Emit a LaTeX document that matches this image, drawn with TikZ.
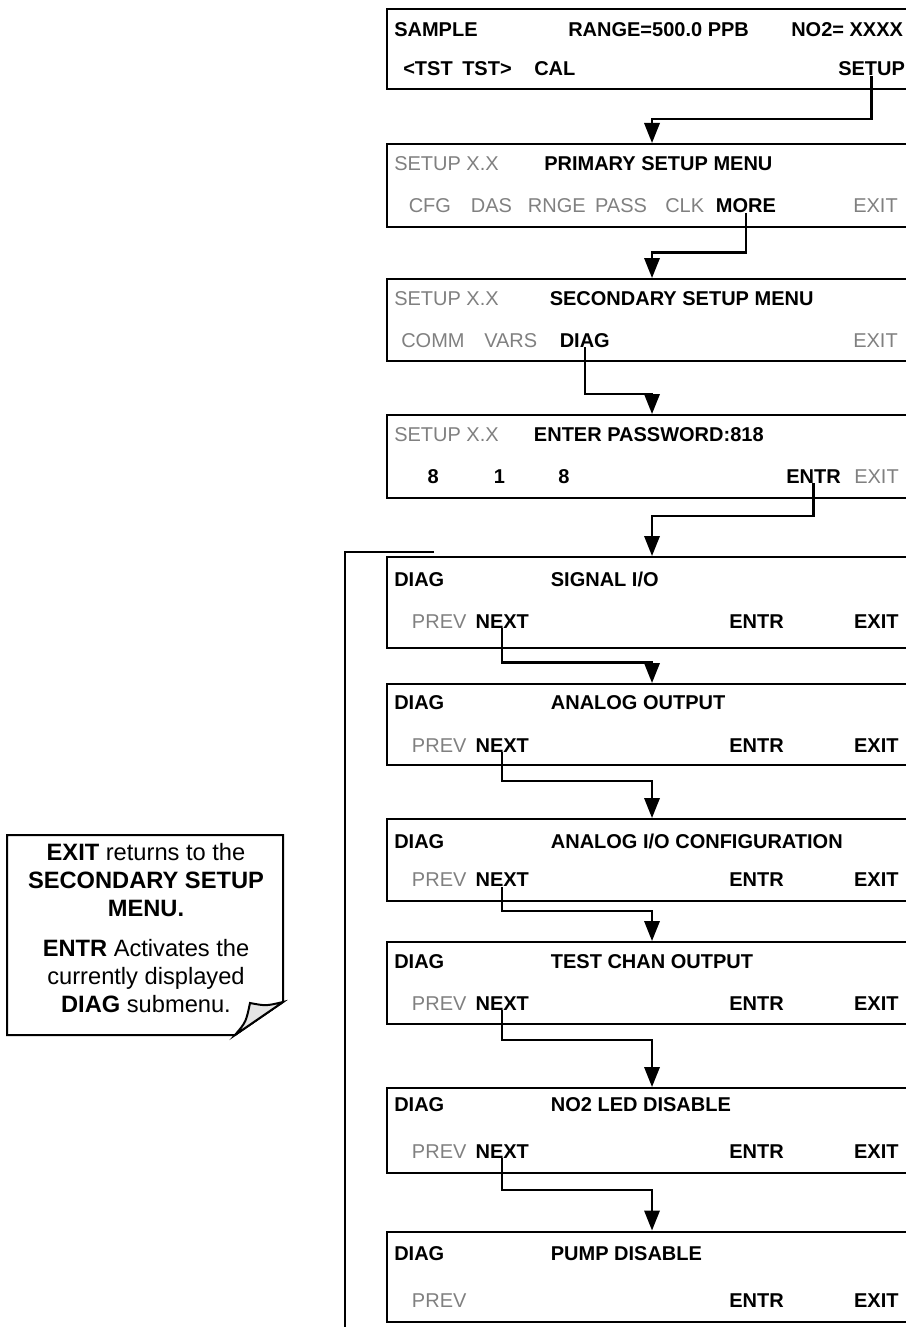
\documentclass[tikz,border=0pt]{standalone}
\usepackage{fontspec}
\setmainfont{Liberation Sans}
\usetikzlibrary{arrows.meta}

\begin{document}
\begin{tikzpicture}[
  x=0.75pt, y=-0.75pt,
  panel/.style={draw, line width=1.8pt, minimum width=397.5pt, inner sep=0pt,
                anchor=north},
  key/.style={font=\fontsize{15}{18}\selectfont\bfseries, inner sep=0pt,
              anchor=base west},
  dim/.style={key, font=\fontsize{15}{18}\selectfont, text=black!50},
  link/.style={-{Triangle[length=15pt, width=11.5pt]}, line width=1.8pt},
  backline/.style={line width=1.8pt},
  notebox/.style={line width=1.5pt},
  notetext/.style={font=\fontsize{17.75}{21}\selectfont, align=center,
                   anchor=north, inner sep=0pt}
]
\useasboundingbox (0,0) rectangle (906,1327);
\clip (0,0) rectangle (906,1327);

\node[panel, minimum height=60pt] (b1) at (652,8) {};
\node[key] (sample) at (394,37) {SAMPLE};
\node[key] (range) at (568,37) {RANGE=500.0 PPB};
\node[key] (no2) at (791,37) {NO2= XXXX};
\node[key] (tstl) at (403,76) {<TST};
\node[key] (tstr) at (462,76) {TST>};
\node[key] (cal) at (534,76) {CAL};
\node[key] (setup) at (838,76) {SETUP};

\node[panel, minimum height=62.25pt] (b2) at (652,143) {};
\node[dim] (su2) at (394,170.5) {SETUP X.X};
\node[key] (prim) at (544,170.5) {PRIMARY SETUP MENU};
\node[dim] (cfg) at (408.5,212.5) {CFG};
\node[dim] (das) at (470.6,212.5) {DAS};
\node[dim] (rnge) at (527.6,212.5) {RNGE};
\node[dim] (pass) at (594.8,212.5) {PASS};
\node[dim] (clk) at (665,212.5) {CLK};
\node[key] (more) at (715.6,212.5) {MORE};
\node[dim] (exit2) at (853,212.5) {EXIT};

\node[panel, minimum height=61.5pt] (b3) at (652,278) {};
\node[dim] (su3) at (394,305) {SETUP X.X};
\node[key] (sec) at (549.5,305) {SECONDARY SETUP MENU};
\node[dim] (comm) at (401,347) {COMM};
\node[dim] (vars) at (484,347) {VARS};
\node[key] (diag3) at (559.5,347) {DIAG};
\node[dim] (exit3) at (853,347) {EXIT};

\node[panel, minimum height=62.25pt] (b4) at (652,414) {};
\node[dim] (su4) at (394,441) {SETUP X.X};
\node[key] (pw) at (533.7,441) {ENTER PASSWORD:818};
\node[key] (d1) at (427.4,483) {8};
\node[key] (d2) at (493.6,483) {1};
\node[key] (d3) at (558,483) {8};
\node[key] (entr4) at (786,483) {ENTR};
\node[dim] (exit4) at (854,483) {EXIT};

\foreach \i/\yt/\hh/\ya/\yb/\ttl in {
    5/556/68.25/586.5/628/{SIGNAL I/O},
    6/683/60.75/709.5/752/{ANALOG OUTPUT},
    7/818/61.5/848/886.5/{ANALOG I/O CONFIGURATION},
    8/941/61.5/968.5/1010/{TEST CHAN OUTPUT},
    9/1087/63.75/1111/1158/{NO2 LED DISABLE},
    10/1230.5/67.875/1260/1307/{PUMP DISABLE}} {
  \node[panel, minimum height=\hh pt] (b\i) at (652,\yt) {};
  \node[key] (dg\i) at (394,\ya) {DIAG};
  \node[key] (ti\i) at (550.6,\ya) {\ttl};
  \node[dim] (pv\i) at (411.7,\yb) {PREV};
  \node[key] (en\i) at (729,\yb) {ENTR};
  \node[key] (ex\i) at (853.8,\yb) {EXIT};
}
\foreach \i in {5,...,9}
  \node[key] (nx\i) at (pv\i.base -| 475.3,0) {NEXT};

\draw[link] (setup.south) -- (setup.south |- 0,119) -| (b2.north);
\draw[link] (more.south) -- (more.south |- 0,252.5) -| (b3.north);
\draw[link] (diag3.south) -- (diag3.south |- 0,394) -| (b4.north);
\draw[link] (entr4.south) -- (entr4.south |- 0,516) -| (b5.north);
\foreach \i/\j/\yh in {5/6/662.5, 6/7/781, 7/8/911, 8/9/1040, 9/10/1190}
  \draw[link] (nx\i.south) -- (nx\i.south |- 0,\yh) -| (b\j.north);

\coordinate (bk1) at (434,552);
\coordinate (bk2) at (345,1330);
\draw[backline] (bk1) -| (bk2);

\draw[notebox] (7,835) -- (283,835) -- (283,1002) -- (235,1035) -- (7,1035) -- cycle;
\draw[notebox, fill=black!10] (235,1035) .. controls (246,1022) .. (250,1003)
  .. controls (266,1006) .. (283,1002) -- cycle;
\node[notetext] (note) at (146,843.5)
  {\textbf{EXIT} returns to the\\ \textbf{SECONDARY SETUP}\\ \textbf{MENU.}\\[9pt]
   \textbf{ENTR} Activates the\\ currently displayed\\ \textbf{DIAG} submenu.};
\end{tikzpicture}
\end{document}
